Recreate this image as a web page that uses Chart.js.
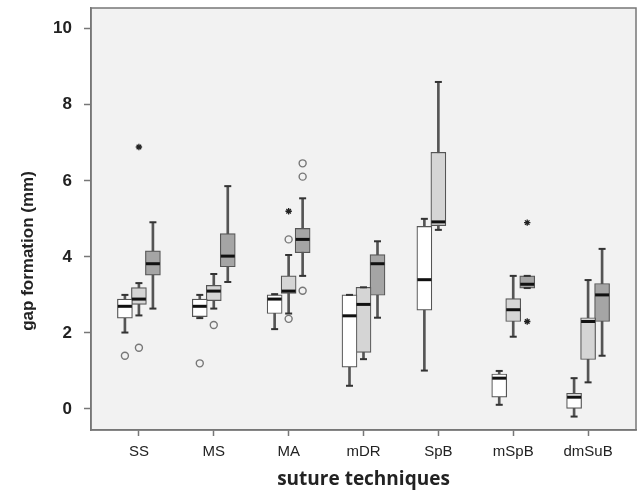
<!DOCTYPE html>
<html>
<head>
<meta charset="utf-8">
<script src="https://cdn.jsdelivr.net/npm/chart.js@4.4.0/dist/chart.umd.min.js"></script>
<style>
    html, body { margin: 0; padding: 0; background: #fff; overflow: hidden; }
    canvas { display: block; }
</style>
</head>
<body>
<canvas id="gap" width="638" height="494"></canvas>
<script>
var categories = ['SS', 'MS', 'MA', 'mDR', 'SpB', 'mSpB', 'dmSuB'];
var yTicks = [0, 2, 4, 6, 8, 10];

// white group
var whiteLo  = [2.01, 2.39, 2.10, 0.61, 1.01, 0.11, -0.20];
var whiteQ1  = [2.39, 2.43, 2.51, 1.10, 2.60, 0.31, 0.00];
var whiteMed = [2.70, 2.70, 2.89, 2.45, 3.40, 0.81, 0.31];
var whiteQ3  = [2.89, 2.89, 3.00, 3.00, 4.80, 0.92, 0.41];
var whiteHi  = [3.00, 3.00, 3.02, 3.00, 5.00, 1.00, 0.81];

// light grey group
var lightLo  = [2.46, 2.64, 2.51, 1.31, 4.71, 1.90, 0.70];
var lightQ1  = [2.75, 2.85, 3.04, 1.49, 4.82, 2.30, 1.30];
var lightMed = [2.89, 3.10, 3.10, 2.75, 4.92, 2.61, 2.30];
var lightQ3  = [3.19, 3.25, 3.50, 3.20, 6.75, 2.90, 2.40];
var lightHi  = [3.31, 3.55, 4.05, 3.20, 8.60, 3.50, 3.39];

// dark grey group (no box for SpB)
var darkLo  = [2.64, 3.34, 3.50, 2.40, null, 3.18, 1.40];
var darkQ1  = [3.52, 3.74, 4.11, 2.99, null, 3.18, 2.30];
var darkMed = [3.82, 4.02, 4.46, 3.82, null, 3.28, 3.00];
var darkQ3  = [4.16, 4.61, 4.75, 4.06, null, 3.50, 3.30];
var darkHi  = [4.91, 5.86, 5.54, 4.41, null, 3.50, 4.21];

// outliers: [category index, value]
var whiteCircles = [[0, 1.40], [1, 1.20]];
var lightCircles = [[0, 1.61], [1, 2.21], [2, 4.46], [2, 2.37]];
var lightStars   = [[0, 6.89], [2, 5.20]];
var darkCircles  = [[2, 6.46], [2, 6.11], [2, 3.11]];
var darkStars    = [[5, 4.90], [5, 2.30]];

var shift = 0.187; // spacing between the three boxes in a cluster

function boxSets(lo, q1, med, q3, hi, off, fill) {
    var idx = [];
    for (var i = 0; i < categories.length; i++) if (lo[i] != null) idx.push(i);
    var xOf = function (i) { return i + 1 + off; };
    var caps = [];
    idx.forEach(function (i) { caps.push({ x: xOf(i), y: lo[i] }, { x: xOf(i), y: hi[i] }); });
    return [{
        type: 'bar', grouped: false, order: 3, barThickness: 2,
        backgroundColor: '#555', borderWidth: 0,
        data: idx.map(function (i) { return { x: xOf(i), y: [lo[i], hi[i]] }; })
    }, {
        type: 'bar', grouped: false, order: 2, barThickness: 15,
        backgroundColor: fill, borderColor: '#555', borderWidth: 1.2, borderSkipped: false,
        data: idx.map(function (i) { return { x: xOf(i), y: [q1[i], q3[i]] }; })
    }, {
        type: 'scatter', order: 1, pointStyle: 'line', radius: 3.5, borderWidth: 2, borderColor: '#333',
        data: caps
    }, {
        type: 'scatter', order: 0, pointStyle: 'line', radius: 7, borderWidth: 3, borderColor: '#111',
        data: idx.map(function (i) { return { x: xOf(i), y: med[i] }; })
    }];
}

function outlierSet(list, off, style) {
    var star = style === 'star';
    return {
        type: 'scatter', order: 0, pointStyle: star ? 'star' : 'circle',
        radius: star ? 3.2 : 3.5, borderWidth: star ? 1.3 : 1.4,
        borderColor: star ? '#222' : '#777', backgroundColor: '#f2f2f2',
        data: list.map(function (p) { return { x: p[0] + 1 + off, y: p[1] }; })
    };
}

var datasets = []
    .concat(boxSets(whiteLo, whiteQ1, whiteMed, whiteQ3, whiteHi, -shift, '#ffffff'))
    .concat(boxSets(lightLo, lightQ1, lightMed, lightQ3, lightHi, 0, '#d5d5d5'))
    .concat(boxSets(darkLo, darkQ1, darkMed, darkQ3, darkHi, shift, '#a5a5a5'))
    .concat([
        outlierSet(whiteCircles, -shift, 'circle'),
        outlierSet(lightCircles, 0, 'circle'),
        outlierSet(lightStars, 0, 'star'),
        outlierSet(darkCircles, shift, 'circle'),
        outlierSet(darkStars, shift, 'star')
    ]);

var frame = {
    id: 'frame',
    beforeDraw: function (chart) {
        var a = chart.chartArea, ctx = chart.ctx;
        ctx.save();
        ctx.fillStyle = '#f2f2f2';
        ctx.fillRect(a.left, a.top, a.right - a.left, a.bottom - a.top);
        ctx.restore();
    },
    afterDraw: function (chart) {
        var a = chart.chartArea, ctx = chart.ctx;
        ctx.save();
        ctx.strokeStyle = '#777';
        ctx.lineWidth = 1.5;
        ctx.strokeRect(a.left, a.top, a.right - a.left, a.bottom - a.top);
        // y title sits lower than the plot centre in the original
        ctx.translate(28, a.bottom - 179);
        ctx.rotate(-Math.PI / 2);
        ctx.fillStyle = '#222';
        ctx.font = 'bold 17px "Liberation Sans", Arial, sans-serif';
        ctx.textAlign = 'center';
        ctx.textBaseline = 'middle';
        ctx.fillText('gap formation (mm)', 0, 0);
        ctx.restore();
    }
};

var ctx = document.getElementById('gap').getContext('2d');
var chart = new Chart(ctx, {
    type: 'bar',
    data: { datasets: datasets },
    plugins: [frame],
    options: {
        responsive: false,
        animation: false,
        layout: { autoPadding: false, padding: { top: 8, right: 2, left: 0, bottom: 0 } },
        plugins: { legend: { display: false }, tooltip: { enabled: false } },
        scales: {
            x: {
                type: 'linear', offset: false, min: 0.36, max: 7.64,
                afterBuildTicks: function (s) { s.ticks = categories.map(function (c, i) { return { value: i + 1 }; }); },
                afterFit: function (s) { s.height = 64; s.paddingLeft = 0; s.paddingRight = 0; },
                ticks: {
                    autoSkip: false, maxRotation: 0, padding: 7, color: '#222',
                    font: { family: '"Liberation Sans", Arial, sans-serif', size: 15 },
                    callback: function (v) { return categories[v - 1]; }
                },
                grid: { offset: false, drawOnChartArea: false, tickLength: 6, tickColor: '#777', tickWidth: 1.5 },
                border: { color: '#777', width: 1.5 },
                title: {
                    display: true, text: 'suture techniques', color: '#222',
                    font: { family: '"Open Sans", sans-serif', size: 19, weight: 'bold' },
                    padding: { top: 0, bottom: 3 }
                }
            },
            y: {
                min: -0.553, max: 10.545,
                afterBuildTicks: function (s) { s.ticks = yTicks.map(function (v) { return { value: v }; }); },
                afterFit: function (s) { s.width = 91; s.paddingTop = 0; s.paddingBottom = 0; },
                ticks: {
                    padding: 12, color: '#222',
                    font: { family: '"Liberation Sans", Arial, sans-serif', size: 17, weight: 'bold' }
                },
                grid: { drawOnChartArea: false, tickLength: 7, tickColor: '#777', tickWidth: 1.5 },
                border: { color: '#777', width: 1.5 }
            }
        }
    }
});
</script>
</body>
</html>
